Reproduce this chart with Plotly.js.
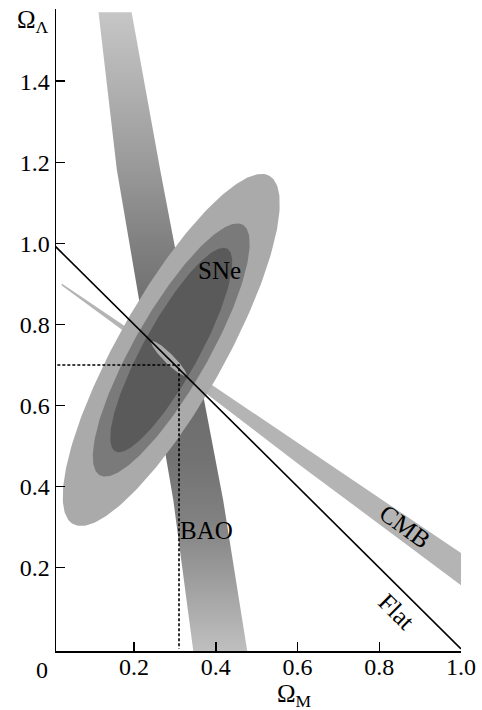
<!DOCTYPE html>
<html>
<head>
<meta charset="utf-8">
<script src="https://cdn.plot.ly/plotly-3.0.1.min.js"></script>
<style>html,body{margin:0;padding:0;background:#fff;}#chart{width:482px;height:710px;}</style>
</head>
<body>
<div id="chart"></div>
<script>
// ---- data ----
// BAO band edges (Omega_M, Omega_Lambda)
var baoLeftX  = [0.113, 0.158, 0.296, 0.345];
var baoLeftY  = [1.570, 1.181, 0.367, -0.006];
var baoRightX = [0.194, 0.264, 0.418, 0.477];
var baoRightY = [1.570, 1.181, 0.367, -0.006];
// CMB band edges
var cmbUpperX = [0.023, 0.207, 0.370, 1.000];
var cmbUpperY = [0.901, 0.776, 0.665, 0.236];
var cmbLowerX = [0.023, 0.207, 0.606, 1.000];
var cmbLowerY = [0.896, 0.760, 0.453, 0.157];
// SNe confidence ellipses (outer, middle, inner)
var sneCenterX = 0.291;
var sneCenterY = 0.737;
var sneSemiMajor = [0.492, 0.355, 0.285];
var sneSemiMinor = [0.130, 0.091, 0.068];
var sneAngle = [60.8, 60.5, 61.3];
// combined constraint (lens)
var jointCenter = [0.285, 0.716];
var jointAxes = [0.060, 0.012];
var jointAngle = -45;
// flat universe line and best fit point
var flatX = [0, 1];
var flatY = [1, 0];
var bestFit = [0.31, 0.70];
// tick values
var xTicks = [0.2, 0.4, 0.6, 0.8, 1.0];
var xTickText = ['0.2', '0.4', '0.6', '0.8', '1.0'];
var yTicks = [0.2, 0.4, 0.6, 0.8, 1.0, 1.2, 1.4];
var yTickText = ['0.2', '0.4', '0.6', '0.8', '1.0', '1.2', '1.4'];
// labels
var labelText = ['SNe', 'BAO', 'CMB', 'Flat'];
var labelX = [0.410, 0.378, 0.863, 0.842];
var labelY = [0.934, 0.293, 0.301, 0.092];

// ---- helpers ----
function band(lx, ly, rx, ry) {
  var xs = lx.slice(), ys = ly.slice();
  for (var i = rx.length - 1; i >= 0; i--) { xs.push(rx[i]); ys.push(ry[i]); }
  xs.push(lx[0]); ys.push(ly[0]);
  return {x: xs, y: ys};
}
function ellipse(cx, cy, a, b, angDeg) {
  var th = angDeg * Math.PI / 180, xs = [], ys = [], n = 240;
  for (var i = 0; i <= n; i++) {
    var t = 2 * Math.PI * i / n;
    xs.push(cx + a * Math.cos(t) * Math.cos(th) - b * Math.sin(t) * Math.sin(th));
    ys.push(cy + a * Math.cos(t) * Math.sin(th) + b * Math.sin(t) * Math.cos(th));
  }
  return {x: xs, y: ys};
}

var serif = '"Liberation Serif", "Times New Roman", serif';
var traces = [];

var bao = band(baoLeftX, baoLeftY, baoRightX, baoRightY);
traces.push({x: bao.x, y: bao.y, type: 'scatter', mode: 'lines', fill: 'toself',
  line: {width: 0, color: 'rgba(0,0,0,0)'},
  fillgradient: {type: 'vertical', start: 0, stop: 1.57,
    colorscale: [[0, '#bebebe'], [0.12, '#9a9a9a'], [0.2, '#818181'], [0.3, '#727272'],
                 [0.5, '#686868'], [0.64, '#818181'], [0.76, '#9a9a9a'], [0.9, '#b4b4b4'], [1, '#c6c6c6']]},
  hoverinfo: 'skip'});

var cmb = band(cmbUpperX, cmbUpperY, cmbLowerX, cmbLowerY);
traces.push({x: cmb.x, y: cmb.y, type: 'scatter', mode: 'lines', fill: 'toself',
  fillcolor: '#b4b4b4', line: {width: 0, color: 'rgba(0,0,0,0)'}, hoverinfo: 'skip'});

var sneColors = ['#aaaaaa', '#7a7a7a', '#5a5a5a'];
for (var k = 0; k < sneSemiMajor.length; k++) {
  var e = ellipse(sneCenterX, sneCenterY, sneSemiMajor[k], sneSemiMinor[k], sneAngle[k]);
  traces.push({x: e.x, y: e.y, type: 'scatter', mode: 'lines', fill: 'toself',
    fillcolor: sneColors[k], line: {width: 0, color: 'rgba(0,0,0,0)'}, hoverinfo: 'skip'});
}

var j = ellipse(jointCenter[0], jointCenter[1], jointAxes[0], jointAxes[1], jointAngle);
traces.push({x: j.x, y: j.y, type: 'scatter', mode: 'lines', fill: 'toself',
  fillcolor: '#ababab', line: {width: 0, color: 'rgba(0,0,0,0)'}, hoverinfo: 'skip'});

traces.push({x: flatX, y: flatY, type: 'scatter', mode: 'lines',
  line: {color: '#000', width: 1.6}, hoverinfo: 'skip'});

traces.push({x: [0, bestFit[0], bestFit[0]], y: [bestFit[1], bestFit[1], 0], type: 'scatter', mode: 'lines',
  line: {color: '#000', width: 1.6, dash: '3px,2px'}, hoverinfo: 'skip'});

var annotations = [];
for (var m = 0; m < labelText.length; m++) {
  annotations.push({x: labelX[m], y: labelY[m], xref: 'x', yref: 'y', text: labelText[m],
    showarrow: false, textangle: (m === 2 ? 36 : (m === 3 ? 45 : 0)),
    font: {family: serif, size: 25, color: '#000'}});
}
annotations.push({x: -0.0346, y: -0.030, xref: 'paper', yref: 'paper', xanchor: 'center', yanchor: 'middle',
  text: '0', showarrow: false, font: {family: serif, size: 24, color: '#000'}});
annotations.push({x: -0.101, y: 0.980, xref: 'paper', yref: 'paper', xanchor: 'left', yanchor: 'middle',
  text: 'Ω<sub>Λ</sub>', showarrow: false, font: {family: serif, size: 25, color: '#000'}});
annotations.push({x: 0.590, y: -0.070, xref: 'paper', yref: 'paper', xanchor: 'center', yanchor: 'middle',
  text: 'Ω<sub>M</sub>', showarrow: false, font: {family: serif, size: 25, color: '#000'}});

var axisCommon = {showline: true, linecolor: '#000', linewidth: 1.5, ticks: 'inside', ticklen: 9,
  tickwidth: 1.5, tickcolor: '#000', showgrid: false, zeroline: false,
  tickfont: {family: serif, size: 24, color: '#000'}};

var layout = {
  width: 482, height: 710,
  margin: {l: 56, r: 21, t: 9, b: 59},
  paper_bgcolor: '#fff', plot_bgcolor: '#fff',
  showlegend: false,
  xaxis: Object.assign({}, axisCommon, {range: [0.009, 1.0], tickvals: xTicks, ticktext: xTickText,
    ticklabelstandoff: -6}),
  yaxis: Object.assign({}, axisCommon, {range: [-0.0054, 1.578], tickvals: yTicks, ticktext: yTickText}),
  annotations: annotations
};

Plotly.newPlot('chart', traces, layout, {displayModeBar: false, staticPlot: true});
</script>
</body>
</html>
